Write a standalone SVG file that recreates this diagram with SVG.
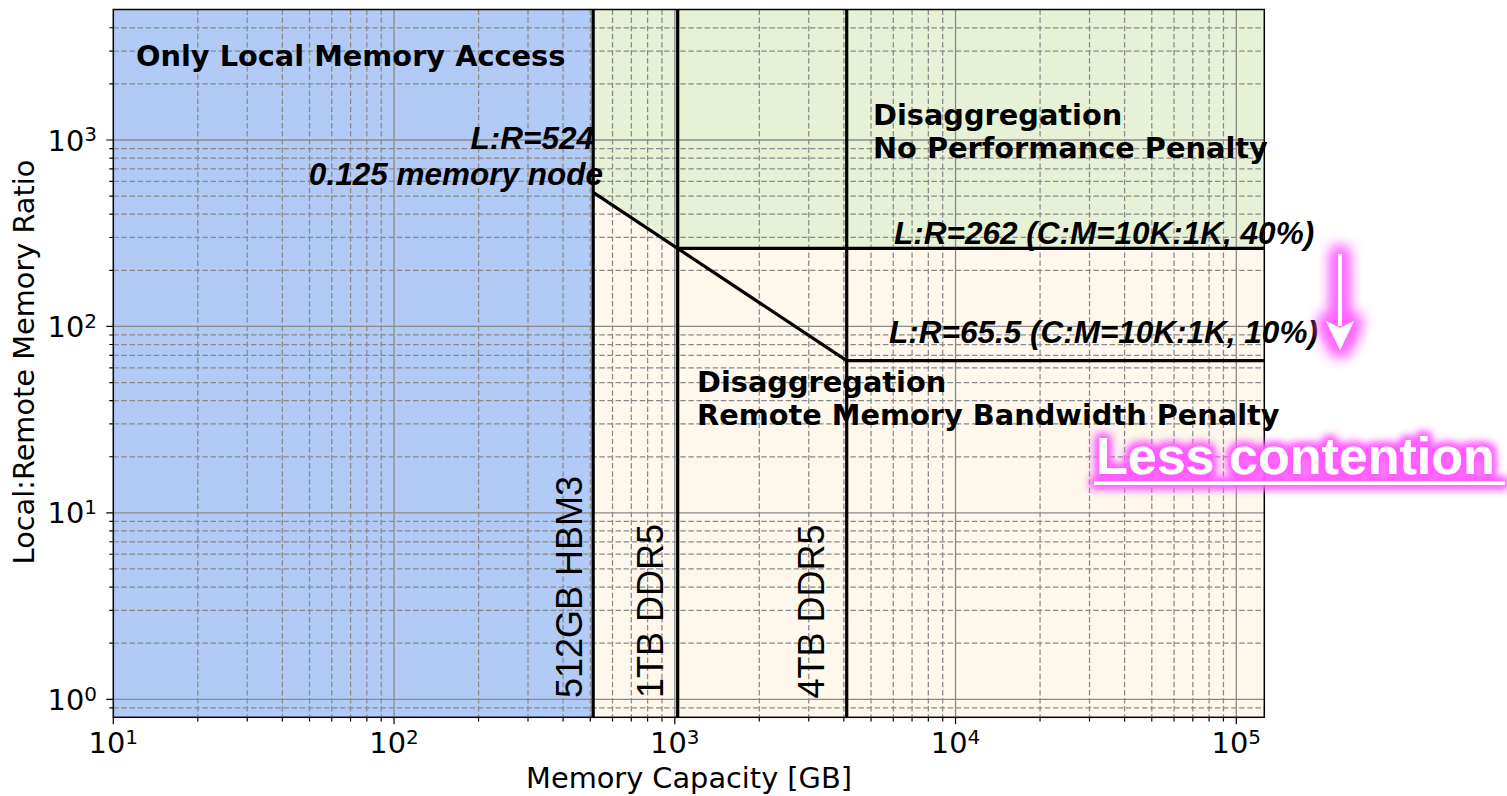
<svg xmlns="http://www.w3.org/2000/svg" width="1507" height="796" viewBox="0 0 1507 796">
  <style>
    .grid-major { fill: none; stroke: #8a8a8a; stroke-width: 1.3; }
    .grid-minor { fill: none; stroke: #8a8a8a; stroke-width: 1.25; stroke-dasharray: 5.5 2.6; }
    .tick { fill: none; stroke: #000; stroke-width: 1.2; }
    .spine { fill: none; stroke: #000; stroke-width: 1.5; }
    .bound { fill: none; stroke: #000; stroke-width: 3.2; stroke-linejoin: miter; }
    .dv { font-family: "DejaVu Sans", sans-serif; font-size: 28.8px; fill: #000; }
    .dvb { font-family: "DejaVu Sans", sans-serif; font-size: 28.8px; font-weight: bold; fill: #000; }
    .ital { font-family: "Liberation Sans", Arial, sans-serif; font-size: 31.5px; font-weight: bold; font-style: italic; fill: #000; }
    .vert { font-family: "Liberation Sans", Arial, sans-serif; font-size: 36px; fill: #000; }
    .sup { font-size: 20px; }
    .note { font-family: "Liberation Sans", Arial, sans-serif; font-size: 52px; font-weight: bold; fill: #fff; }
  </style>
  <defs>
    <filter id="glowText" x="-10%" y="-60%" width="120%" height="220%">
      <feMorphology in="SourceAlpha" operator="dilate" radius="3" result="d"/>
      <feGaussianBlur in="d" stdDeviation="4.5" result="b"/>
      <feFlood flood-color="#ff5cff" flood-opacity="1"/>
      <feComposite in2="b" operator="in" result="g"/>
      <feMerge><feMergeNode in="g"/><feMergeNode in="g"/><feMergeNode in="SourceGraphic"/></feMerge>
    </filter>
    <filter id="glowArrow" x="-400%" y="-50%" width="900%" height="200%">
      <feMorphology in="SourceAlpha" operator="dilate" radius="6" result="d"/>
      <feGaussianBlur in="d" stdDeviation="7" result="b"/>
      <feFlood flood-color="#ff66ff" flood-opacity="1"/>
      <feComposite in2="b" operator="in" result="g"/>
      <feMerge><feMergeNode in="g"/><feMergeNode in="g"/><feMergeNode in="SourceGraphic"/></feMerge>
    </filter>
  </defs>

  <rect width="1507" height="796" fill="#fff"/>

  <!-- shaded regions -->
  <g id="regions">
    <rect id="local-only" x="113.3" y="9.5" width="479.9" height="707.8" fill="#b2caf6"/>
    <rect id="bw-penalty" x="593.2" y="9.5" width="671.1" height="707.8" fill="#fdf7ec"/>
    <path id="no-penalty" d="M593.2 9.5H1264.3V248.46H677.69L593.18 192.34Z" fill="#e6f1d5"/>
  </g>

  <!-- grid -->
  <g id="grid">
    <path class="grid-minor" d="M197.81 9.5V717.3M247.25 9.5V717.3M282.33 9.5V717.3M309.54 9.5V717.3M331.77 9.5V717.3M350.56 9.5V717.3M366.84 9.5V717.3M381.2 9.5V717.3M478.56 9.5V717.3M528 9.5V717.3M563.08 9.5V717.3M590.29 9.5V717.3M612.52 9.5V717.3M631.31 9.5V717.3M647.59 9.5V717.3M661.95 9.5V717.3M759.31 9.5V717.3M808.75 9.5V717.3M843.83 9.5V717.3M871.04 9.5V717.3M893.27 9.5V717.3M912.06 9.5V717.3M928.34 9.5V717.3M942.7 9.5V717.3M1040.06 9.5V717.3M1089.5 9.5V717.3M1124.58 9.5V717.3M1151.79 9.5V717.3M1174.02 9.5V717.3M1192.81 9.5V717.3M1209.09 9.5V717.3M1223.45 9.5V717.3"/>
    <path class="grid-minor" d="M113.3 707.83H1264.3M113.3 643.18H1264.3M113.3 610.35H1264.3M113.3 587.06H1264.3M113.3 568.99H1264.3M113.3 554.23H1264.3M113.3 541.75H1264.3M113.3 530.94H1264.3M113.3 521.41H1264.3M113.3 456.75H1264.3M113.3 423.92H1264.3M113.3 400.63H1264.3M113.3 382.56H1264.3M113.3 367.8H1264.3M113.3 355.32H1264.3M113.3 344.51H1264.3M113.3 334.98H1264.3M113.3 270.32H1264.3M113.3 237.49H1264.3M113.3 214.2H1264.3M113.3 196.13H1264.3M113.3 181.37H1264.3M113.3 168.89H1264.3M113.3 158.08H1264.3M113.3 148.55H1264.3M113.3 83.89H1264.3M113.3 51.06H1264.3M113.3 27.77H1264.3"/>
    <path class="grid-major" d="M394.05 9.5V717.3M674.8 9.5V717.3M955.55 9.5V717.3M1236.3 9.5V717.3M113.3 699.3H1264.3M113.3 512.87H1264.3M113.3 326.44H1264.3M113.3 140.01H1264.3"/>
  </g>

  <!-- capacity limits and L:R thresholds -->
  <g id="connectors">
    <path class="bound" d="M593.18 9.5V717.3M677.69 9.5V717.3M846.72 9.5V717.3"/>
    <path class="bound" d="M593.18 192.34L846.72 360.7H1264.3"/>
    <path class="bound" d="M677.69 248.46H1264.3"/>
  </g>

  <!-- axes -->
  <g id="axes">
    <rect class="spine" x="113.3" y="9.5" width="1151" height="707.8"/>
    <path class="tick" d="M113.3 717.3v7M394.05 717.3v7M674.8 717.3v7M955.55 717.3v7M1236.3 717.3v7"/>
    <path class="tick" d="M197.81 717.3v4.3M247.25 717.3v4.3M282.33 717.3v4.3M309.54 717.3v4.3M331.77 717.3v4.3M350.56 717.3v4.3M366.84 717.3v4.3M381.2 717.3v4.3M478.56 717.3v4.3M528 717.3v4.3M563.08 717.3v4.3M590.29 717.3v4.3M612.52 717.3v4.3M631.31 717.3v4.3M647.59 717.3v4.3M661.95 717.3v4.3M759.31 717.3v4.3M808.75 717.3v4.3M843.83 717.3v4.3M871.04 717.3v4.3M893.27 717.3v4.3M912.06 717.3v4.3M928.34 717.3v4.3M942.7 717.3v4.3M1040.06 717.3v4.3M1089.5 717.3v4.3M1124.58 717.3v4.3M1151.79 717.3v4.3M1174.02 717.3v4.3M1192.81 717.3v4.3M1209.09 717.3v4.3M1223.45 717.3v4.3"/>
    <path class="tick" d="M113.3 699.3h-7M113.3 512.87h-7M113.3 326.44h-7M113.3 140.01h-7"/>
    <path class="tick" d="M113.3 707.83h-4M113.3 643.18h-4M113.3 610.35h-4M113.3 587.06h-4M113.3 568.99h-4M113.3 554.23h-4M113.3 541.75h-4M113.3 530.94h-4M113.3 521.41h-4M113.3 456.75h-4M113.3 423.92h-4M113.3 400.63h-4M113.3 382.56h-4M113.3 367.8h-4M113.3 355.32h-4M113.3 344.51h-4M113.3 334.98h-4M113.3 270.32h-4M113.3 237.49h-4M113.3 214.2h-4M113.3 196.13h-4M113.3 181.37h-4M113.3 168.89h-4M113.3 158.08h-4M113.3 148.55h-4M113.3 83.89h-4M113.3 51.06h-4M113.3 27.77h-4"/>
    <g id="x-ticklabels" class="dv" text-anchor="middle">
      <text x="113.3" y="753">10<tspan class="sup" dy="-9.5">1</tspan></text>
      <text x="394.05" y="753">10<tspan class="sup" dy="-9.5">2</tspan></text>
      <text x="674.8" y="753">10<tspan class="sup" dy="-9.5">3</tspan></text>
      <text x="955.55" y="753">10<tspan class="sup" dy="-9.5">4</tspan></text>
      <text x="1236.3" y="753">10<tspan class="sup" dy="-9.5">5</tspan></text>
    </g>
    <g id="y-ticklabels" class="dv" text-anchor="end">
      <text x="97" y="710">10<tspan class="sup" dy="-9.5">0</tspan></text>
      <text x="97" y="523.4">10<tspan class="sup" dy="-9.5">1</tspan></text>
      <text x="97" y="337">10<tspan class="sup" dy="-9.5">2</tspan></text>
      <text x="97" y="150.5">10<tspan class="sup" dy="-9.5">3</tspan></text>
    </g>
    <text id="x-label" class="dv" x="689" y="788" text-anchor="middle">Memory Capacity [GB]</text>
    <text id="y-label" class="dv" transform="translate(33.5 362) rotate(-90)" text-anchor="middle">Local:Remote Memory Ratio</text>
  </g>

  <!-- region labels -->
  <g id="label-local">
    <text class="dvb" x="136" y="65.5">Only Local Memory Access</text>
  </g>
  <g id="label-no-penalty">
    <text class="dvb" x="873" y="125">Disaggregation</text>
    <text class="dvb" x="873" y="158">No Performance Penalty</text>
  </g>
  <g id="label-bw-penalty">
    <text class="dvb" x="697" y="392">Disaggregation</text>
    <text class="dvb" x="697" y="425">Remote Memory Bandwidth Penalty</text>
  </g>

  <!-- threshold annotations -->
  <g id="label-524">
    <text class="ital" x="594" y="149.3" text-anchor="end">L:R=524</text>
    <text class="ital" x="603" y="185" text-anchor="end">0.125 memory node</text>
  </g>
  <g id="label-262">
    <text class="ital" x="894" y="244.3">L:R=262 (C:M=10K:1K, 40%)</text>
  </g>
  <g id="label-65">
    <text class="ital" x="889" y="343.3">L:R=65.5 (C:M=10K:1K, 10%)</text>
  </g>

  <!-- memory device capacities -->
  <g id="label-hbm3">
    <text class="vert" transform="translate(582 698) rotate(-90)">512GB HBM3</text>
  </g>
  <g id="label-ddr5-1tb">
    <text class="vert" transform="translate(663 698) rotate(-90)">1TB DDR5</text>
  </g>
  <g id="label-ddr5-4tb">
    <text class="vert" transform="translate(823.5 698.5) rotate(-90)">4TB DDR5</text>
  </g>

  <!-- contention callout -->
  <g id="contention-arrow" filter="url(#glowArrow)">
    <rect x="1338" y="254" width="4" height="72" fill="#fff"/>
    <path d="M1326 321L1340 350L1354 321L1340 328Z" fill="#fff"/>
  </g>
  <g id="contention-label" filter="url(#glowText)">
    <text class="note" x="1096" y="474">Less contention</text>
    <rect x="1094" y="481.3" width="411" height="3.6" fill="#fff"/>
  </g>
</svg>
